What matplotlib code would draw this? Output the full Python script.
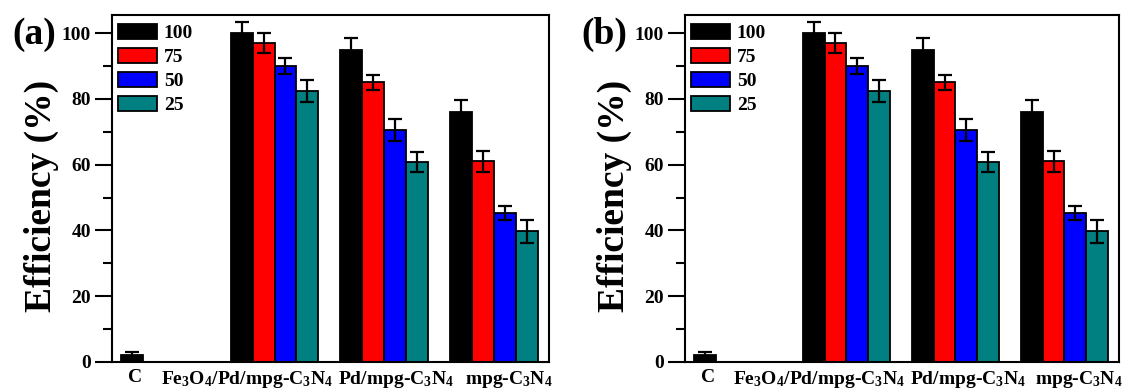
import numpy as np
import matplotlib
matplotlib.use('Agg')
import matplotlib.pyplot as plt

# fonts: Times-like bold everywhere, subscripts via mathtext
plt.rcParams['font.family'] = 'Liberation Serif'
plt.rcParams['font.weight'] = 'bold'
plt.rcParams['mathtext.fontset'] = 'custom'
plt.rcParams['mathtext.rm'] = 'Liberation Serif:bold'
plt.rcParams['mathtext.bf'] = 'Liberation Serif:bold'
plt.rcParams['mathtext.it'] = 'Liberation Serif:bold'
plt.rcParams['mathtext.default'] = 'bf'

# data (same values in both panels)
catalysts = ['C', r'Fe$_3$O$_4$/Pd/mpg-C$_3$N$_4$', r'Pd/mpg-C$_3$N$_4$', r'mpg-C$_3$N$_4$']
series_names = ['100', '75', '50', '25']
eff_100 = [2.0, 100.0, 95.0, 76.0]
eff_75 = [np.nan, 97.0, 85.0, 61.0]
eff_50 = [np.nan, 90.0, 70.5, 45.3]
eff_25 = [np.nan, 82.5, 60.7, 39.8]
err_100 = [1.0, 3.5, 3.4, 3.8]
err_75 = [np.nan, 3.0, 2.3, 3.1]
err_50 = [np.nan, 2.3, 3.4, 2.2]
err_25 = [np.nan, 3.3, 3.0, 3.5]

colors = ['#000000', '#ff0000', '#0000ff', '#008080']
values = [eff_100, eff_75, eff_50, eff_25]
errors = [err_100, err_75, err_50, err_25]

# label positions were placed by hand in the original (not centred on groups)
label_pos = [0.73, 1.75, 3.11, 4.13]


def draw_panel(ax, tag, tag_x, ylab_x):
    x = np.arange(1, len(catalysts) + 1)
    w = 0.2
    for i in range(4):
        pos = x + (i - 1.5) * w
        ax.bar(pos, values[i], width=w, color=colors[i], edgecolor='black',
               linewidth=1.3, label=series_names[i], zorder=2)
        ax.errorbar(pos, values[i], yerr=errors[i], fmt='none', ecolor='black',
                    elinewidth=1.6, capsize=5, capthick=1.6, zorder=3)

    ax.set_xlim(0.52, 4.5)
    ax.set_ylim(0, 105.5)
    ax.set_yticks([0, 20, 40, 60, 80, 100])
    ax.set_yticks([10, 30, 50, 70, 90], minor=True)
    ax.tick_params(axis='y', which='major', direction='out', length=12, width=1.5,
                   labelsize=14, pad=3)
    ax.tick_params(axis='y', which='minor', direction='out', length=6.5, width=1.5)
    ax.set_xticks(label_pos)
    ax.set_xticklabels(catalysts)
    ax.tick_params(axis='x', length=0, labelsize=14, pad=5)
    for lab in ax.get_yticklabels() + ax.get_xticklabels():
        lab.set_fontweight('bold')
    for sp in ax.spines.values():
        sp.set_linewidth(1.5)

    ax.legend(loc='upper left', bbox_to_anchor=(0.014, 0.974), frameon=False,
              borderaxespad=0, borderpad=0, handlelength=2.0,
              handleheight=0.8, labelspacing=0.3, handletextpad=0.35,
              prop={'weight': 'bold', 'size': 14})

    fig.text(tag_x / 1125, 1 - 34 / 389, tag, fontsize=27, fontweight='bold',
             ha='center', va='center')
    fig.text(ylab_x / 1125, 1 - 196 / 389, 'Efficiency (%)', fontsize=27,
             fontweight='bold', rotation=90, ha='center', va='center')


fig = plt.figure(figsize=(11.25, 3.89), dpi=100)
ax_a = fig.add_axes([112 / 1125, 27 / 389, 437 / 1125, 347 / 389])
ax_b = fig.add_axes([685 / 1125, 27 / 389, 434 / 1125, 347 / 389])

draw_panel(ax_a, '(a)', 34.5, 41)
draw_panel(ax_b, '(b)', 604, 614)

fig.savefig('out.png', dpi=100)
